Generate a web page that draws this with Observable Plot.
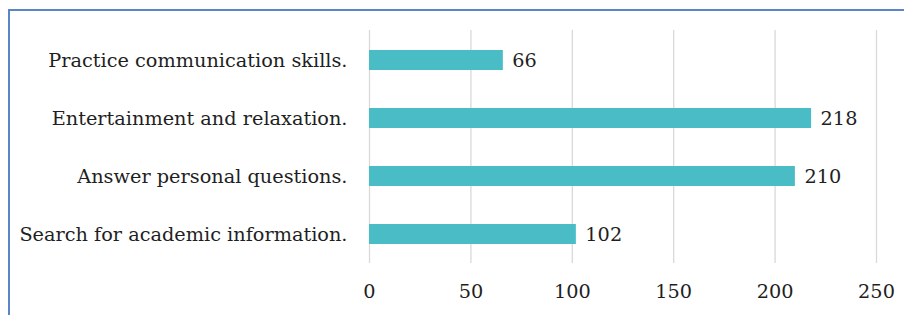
<!DOCTYPE html>
<html>
<head>
<meta charset="utf-8">
<script src="https://cdn.jsdelivr.net/npm/d3@7"></script>
<script src="https://cdn.jsdelivr.net/npm/@observablehq/plot@0.6"></script>
<style>
  html, body { margin: 0; padding: 0; background: #fff; overflow: hidden; }
  #wrap { position: relative; width: 904px; height: 315px; }
  #frame { position: absolute; left: 8px; top: 9px; width: 1000px; height: 1000px;
           border-left: 2px solid #5a86c8; border-top: 2px solid #5a86c8; pointer-events: none; }
</style>
</head>
<body>
<div id="wrap"><div id="frame"></div></div>
<script>
const categories = [
  "Practice communication skills.",
  "Entertainment and relaxation.",
  "Answer personal questions.",
  "Search for academic information."
];
const values = [66, 218, 210, 102];
const xTicks = [0, 50, 100, 150, 200, 250];

const data = categories.map((c, i) => ({category: c, value: values[i]}));
const FONT = "'DejaVu Serif', serif";
const FS = 19.3;

const chart = Plot.plot({
  width: 904,
  height: 315,
  marginLeft: 369,
  marginRight: 28,
  marginTop: 30,
  marginBottom: 52,
  style: {fontFamily: FONT, fontSize: FS + "px", color: "#1f1f1f", background: "transparent"},
  x: {domain: [0, 250], ticks: xTicks, label: null},
  y: {domain: categories, paddingInner: 0.66, paddingOuter: 0.33, label: null},
  marks: [
    Plot.gridX(xTicks, {stroke: "#d9d9d9", strokeOpacity: 1, strokeWidth: 1.3}),
    Plot.axisX({ticks: xTicks, tickSize: 0, tickPadding: 21, fontSize: FS, label: null}),
    Plot.axisY({tickSize: 0, tickPadding: 22, fontSize: FS, label: null}),
    Plot.barX(data, {x: "value", y: "category", fill: "#4abcc6"}),
    Plot.text(data, {x: "value", y: "category", text: d => String(d.value), textAnchor: "start", dx: 9, fontSize: FS, fill: "#1f1f1f"})
  ]
});
document.getElementById("wrap").prepend(chart);
</script>
</body>
</html>
